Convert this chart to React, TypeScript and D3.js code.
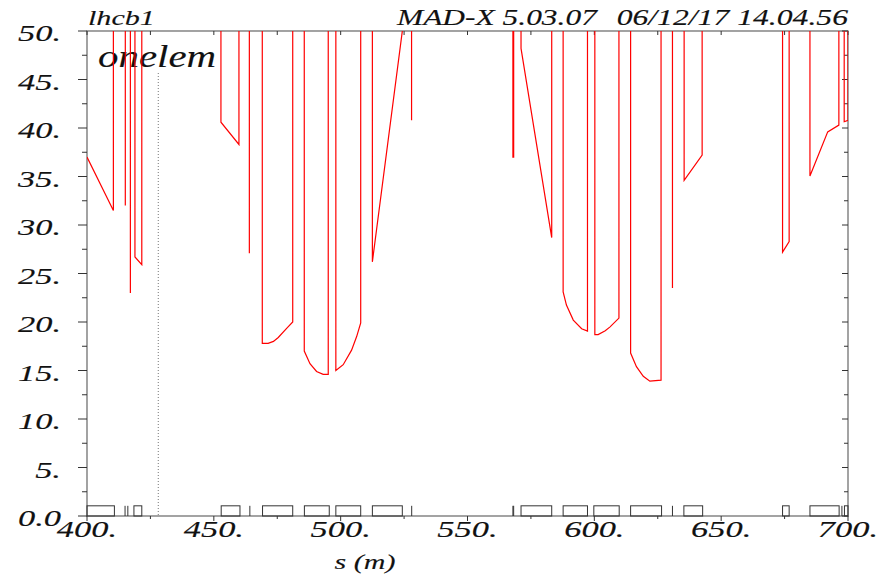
import React from "react";
import * as d3 from "d3";

// aperture curve (s in m, value), OFF = unlimited aperture, drawn off-scale
const OFF = 999;
const apS = [
  400.0, 410.4, 410.4,
  415.1, 415.1, 415.1,
  417.1, 417.1, 417.1,
  418.9, 418.9, 421.6, 421.6,
  452.8, 452.8, 459.9, 459.9,
  464.0, 464.0, 464.0,
  469.1, 469.1, 471.4, 473.5, 475.4, 478.7, 481.1, 481.1,
  485.65, 485.65, 487.9, 490.5, 493.1, 495.1, 495.1,
  498.1, 498.1, 501.0, 504.3, 506.3, 507.9, 507.9,
  512.5, 512.5, 525.5, 525.5,
  527.95, 527.95, 527.95,
  567.9, 567.9, 568.2, 568.2,
  571.1, 571.1, 583.2, 583.2,
  587.7, 587.7, 589.0, 591.7, 595.0, 597.3, 597.3,
  600.2, 600.2, 601.5, 604.3, 606.2, 609.7, 609.7,
  614.3, 614.3, 616.6, 619.3, 621.9, 626.3, 626.3,
  630.8, 630.8, 630.8,
  635.4, 635.4, 642.5, 642.5,
  674.2, 674.2, 676.8, 676.8,
  685.0, 685.0, 692.0, 696.4, 696.4,
  698.5, 698.5, 700.0, 700.0,
];
const apV = [
  37.0, 31.5, OFF,
  OFF, 32.0, OFF,
  OFF, 23.0, OFF,
  OFF, 26.7, 25.9, OFF,
  OFF, 40.6, 38.3, OFF,
  OFF, 27.1, OFF,
  OFF, 17.8, 17.8, 18.0, 18.4, 19.35, 20.0, OFF,
  OFF, 17.0, 15.7, 14.9, 14.6, 14.6, OFF,
  OFF, 15.0, 15.6, 17.1, 18.5, 19.9, OFF,
  OFF, 26.2, 52.4, OFF,
  OFF, 40.8, OFF,
  OFF, 37.0, 37.0, OFF,
  OFF, 48.2, 28.7, OFF,
  OFF, 23.1, 21.75, 20.2, 19.3, 19.07, OFF,
  OFF, 18.7, 18.7, 19.1, 19.5, 20.4, OFF,
  OFF, 16.8, 15.4, 14.4, 13.9, 14.0, OFF,
  OFF, 23.5, OFF,
  OFF, 34.6, 37.2, OFF,
  OFF, 27.2, 28.3, OFF,
  OFF, 35.05, 39.6, 40.3, OFF,
  OFF, 40.65, 40.8, OFF,
];

// machine layout at the bottom
const boxStart = [400.0, 418.5, 452.9, 469.2, 485.7, 498.1, 512.5, 571.1, 587.7, 599.8, 614.3, 635.3, 674.2, 685.0, 698.6];
const boxEnd = [410.8, 421.6, 460.3, 481.1, 495.5, 507.9, 524.3, 583.2, 597.3, 609.8, 626.5, 642.7, 676.8, 696.5, 700.0];
const markerS = [415.0, 416.1, 464.2, 528.0, 567.9, 568.2, 630.8, 697.6];
const boxHeight = 1.05;

const markerLine = 428.1; // "onelem"
const yTicks = [0, 5, 10, 15, 20, 25, 30, 35, 40, 45, 50];
const yLabels = ["0.0", "5.", "10.", "15.", "20.", "25.", "30.", "35.", "40.", "45.", "50."];
const xTicks = [400, 450, 500, 550, 600, 650, 700];
const xLabels = ["400.", "450.", "500.", "550.", "600.", "650.", "700."];

const W = 877;
const H = 580;
const left = 87, right = 848, top = 31, bottom = 516;
const FONT = "Liberation Serif, Times New Roman, Times, serif";

export default function App() {
  const x = d3.scaleLinear().domain([400, 700]).range([left, right]);
  const y = d3.scaleLinear().domain([0, 50]).range([bottom, top]);

  const pts: [number, number][] = apS.map((s, i) => [s, apV[i]]);
  const line = d3.line<[number, number]>().x((d) => x(d[0])).y((d) => y(d[1]));

  const yMinor = d3.range(0, 50.01, 2.5);
  const xMinor = d3.range(400, 700.01, 25);

  // the plot's lettering is stretched horizontally, so scale x only
  const stretchText = (
    tx: number,
    ty: number,
    label: string,
    size: number,
    sx: number,
    anchor: string,
    key?: string
  ) => (
    <text
      key={key}
      transform={`translate(${tx},${ty}) scale(${sx},1)`}
      textAnchor={anchor}
      style={{ fontFamily: FONT, fontStyle: "italic", fontSize: size }}
      fill="#111"
      stroke="#111"
      strokeWidth={0.12}
    >
      {label}
    </text>
  );

  return (
    <svg width={W} height={H} style={{ position: "absolute", left: 0, top: 0, background: "#fff" }}>
      <defs>
        <clipPath id="plotClip">
          <rect x={left} y={top} width={right - left} height={bottom - top} />
        </clipPath>
      </defs>

      {/* frame */}
      <rect x={left} y={top} width={right - left} height={bottom - top} fill="none" stroke="#666" strokeWidth={1.2} />

      {/* left ticks (outward) */}
      {yMinor.map((v) => {
        const major = Math.abs(v % 5) < 1e-6;
        return <line key={"yl" + v} x1={left - (major ? 9 : 5)} x2={left} y1={y(v)} y2={y(v)} stroke="#333" strokeWidth={1} />;
      })}
      {/* right ticks (inward) */}
      {yMinor.map((v) => {
        const major = Math.abs(v % 5) < 1e-6;
        return <line key={"yr" + v} x1={right - (major ? 6 : 4)} x2={right} y1={y(v)} y2={y(v)} stroke="#333" strokeWidth={1} />;
      })}
      {/* bottom ticks (outward) and top ticks (inward) */}
      {xMinor.map((s) => {
        const major = Math.abs(s % 50) < 1e-6;
        return (
          <g key={"xt" + s}>
            <line x1={x(s)} x2={x(s)} y1={bottom} y2={bottom + (major ? 5 : 3)} stroke="#333" strokeWidth={1} />
            <line x1={x(s)} x2={x(s)} y1={top} y2={top + 4} stroke="#333" strokeWidth={1} />
          </g>
        );
      })}

      {/* y labels */}
      {yTicks.map((v, i) => stretchText(61, y(v) + 10, yLabels[i], 23, 1.5, "end", "yt" + v))}
      {/* x labels */}
      {xTicks.map((s, i) => stretchText(x(s), 537, xLabels[i], 23, 1.5, "middle", "xl" + s))}

      {/* axis title and header */}
      {stretchText(365, 569, "s (m)", 20, 1.5, "middle")}
      {stretchText(88, 25, "lhcb1", 22, 1.37, "start")}
      {stretchText(397, 25, "MAD-X 5.03.07", 24, 1.31, "start")}
      {stretchText(848, 25, "06/12/17 14.04.56", 24, 1.32, "end")}

      {/* marker line */}
      <line
        x1={x(markerLine)}
        x2={x(markerLine)}
        y1={73}
        y2={bottom}
        stroke="#777"
        strokeWidth={1}
        strokeDasharray="1,2"
      />
      {stretchText(98, 67, "onelem", 31, 1.32, "start")}

      {/* machine layout */}
      {boxStart.map((s, i) => (
        <rect
          key={"b" + i}
          x={x(s)}
          y={y(boxHeight)}
          width={x(boxEnd[i]) - x(s)}
          height={y(0) - y(boxHeight)}
          fill="none"
          stroke="#333"
          strokeWidth={1}
        />
      ))}
      {markerS.map((s, i) => (
        <line key={"m" + i} x1={x(s)} x2={x(s)} y1={y(0)} y2={y(boxHeight)} stroke="#333" strokeWidth={1} />
      ))}

      {/* aperture curve */}
      <path d={line(pts) ?? ""} fill="none" stroke="#ff0000" strokeWidth={1.2} clipPath="url(#plotClip)" />
    </svg>
  );
}
